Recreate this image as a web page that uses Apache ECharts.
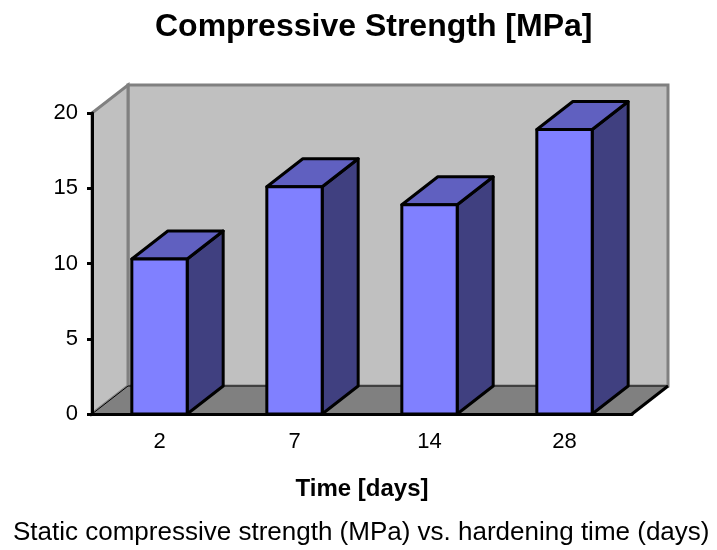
<!DOCTYPE html>
<html>
<head>
<meta charset="utf-8">
<script src="https://cdn.jsdelivr.net/npm/echarts@6/dist/echarts.min.js"></script>
<style>
  html, body { margin: 0; padding: 0; background: #fff; }
  #chart { width: 717px; height: 550px; }
</style>
</head>
<body>
<div id="chart"></div>
<script>
const categories = ["2", "7", "14", "28"];
const strength = [10.3, 15.1, 13.9, 18.9];
const yTicks = { min: 0, max: 20, interval: 5 };

const FONT = "'Liberation Sans', Arial, sans-serif";
// depth offset of the 3d box
const DX = 36;
const DY = -28;

const chart = echarts.init(document.getElementById("chart"));

const renderWalls = (params, api) => {
  const cs = params.coordSys;
  const x0 = cs.x, x1 = cs.x + cs.width;
  const y0 = cs.y, y1 = cs.y + cs.height;
  const wallStyle = { fill: "#C0C0C0", stroke: "#808080", lineWidth: 3 };
  return {
    type: "group",
    children: [
      {
        type: "rect",
        shape: { x: x0 + DX, y: y0 + DY, width: cs.width, height: cs.height },
        style: wallStyle,
      },
      {
        type: "polygon",
        shape: { points: [[x0, y1], [x0, y0], [x0 + DX, y0 + DY], [x0 + DX, y1 + DY]] },
        style: wallStyle,
      },
      {
        type: "polygon",
        shape: { points: [[x0, y1], [x1, y1], [x1 + DX, y1 + DY], [x0 + DX, y1 + DY]] },
        style: { fill: "#808080", stroke: "#000", lineWidth: 1 },
      },
      {
        type: "line",
        shape: { x1: x1, y1: y1, x2: x1 + DX, y2: y1 + DY },
        style: { stroke: "#000", lineWidth: 3 },
      },
    ],
  };
};

const renderBar = (params, api) => {
  const idx = api.value(0);
  const val = api.value(1);
  const base = api.coord([idx, 0]);
  const top = api.coord([idx, val]);
  const w = api.size([1, 0])[0] * 0.41;
  const xl = base[0] - w / 2;
  const xr = xl + w;
  const yt = top[1];
  const yb = base[1];
  const edge = { stroke: "#000", lineWidth: 3, lineJoin: "round" };
  return {
    type: "group",
    children: [
      {
        type: "polygon",
        shape: { points: [[xr, yb], [xr, yt], [xr + DX, yt + DY], [xr + DX, yb + DY]] },
        style: Object.assign({ fill: "#404080" }, edge),
      },
      {
        type: "polygon",
        shape: { points: [[xl, yt], [xr, yt], [xr + DX, yt + DY], [xl + DX, yt + DY]] },
        style: Object.assign({ fill: "#6060C0" }, edge),
      },
      {
        type: "rect",
        shape: { x: xl, y: yt, width: w, height: yb - yt },
        style: Object.assign({ fill: "#8080FF" }, edge),
      },
    ],
  };
};

chart.setOption({
  animation: false,
  backgroundColor: "#fff",
  title: [
    {
      text: "Compressive Strength [MPa]",
      left: 150,
      top: 6,
      textStyle: { fontFamily: FONT, fontSize: 32, fontWeight: "bold", color: "#000" },
    },
    {
      text: "Static compressive strength (MPa) vs. hardening time (days)",
      left: 8,
      top: 515,
      textStyle: { fontFamily: FONT, fontSize: 26, fontWeight: "normal", color: "#000" },
    },
  ],
  grid: { left: 92, right: 85, top: 113, bottom: 136, containLabel: false },
  xAxis: {
    type: "category",
    data: categories,
    z: 5,
    name: "Time [days]",
    nameLocation: "middle",
    nameGap: 63,
    nameTextStyle: { fontFamily: FONT, fontSize: 24, fontWeight: "bold", color: "#000" },
    axisLine: { lineStyle: { color: "#000", width: 3 } },
    axisTick: { length: 12, lineStyle: { color: "#000", width: 3 } },
    axisLabel: { fontFamily: FONT, fontSize: 22, color: "#000", margin: 17 },
    splitLine: { show: false },
  },
  yAxis: {
    type: "value",
    min: yTicks.min,
    max: yTicks.max,
    interval: yTicks.interval,
    z: 5,
    axisLine: { show: true, lineStyle: { color: "#000", width: 3 } },
    axisTick: { show: true, length: 5, lineStyle: { color: "#000", width: 3 } },
    axisLabel: { fontFamily: FONT, fontSize: 22, color: "#000", margin: 14 },
    splitLine: { show: false },
  },
  series: [
    {
      type: "custom",
      z: 1,
      silent: true,
      renderItem: renderWalls,
      data: [[0, 0]],
    },
    {
      type: "custom",
      z: 2,
      renderItem: renderBar,
      encode: { x: 0, y: 1 },
      data: strength.map((v, i) => [i, v]),
    },
  ],
});
</script>
</body>
</html>
